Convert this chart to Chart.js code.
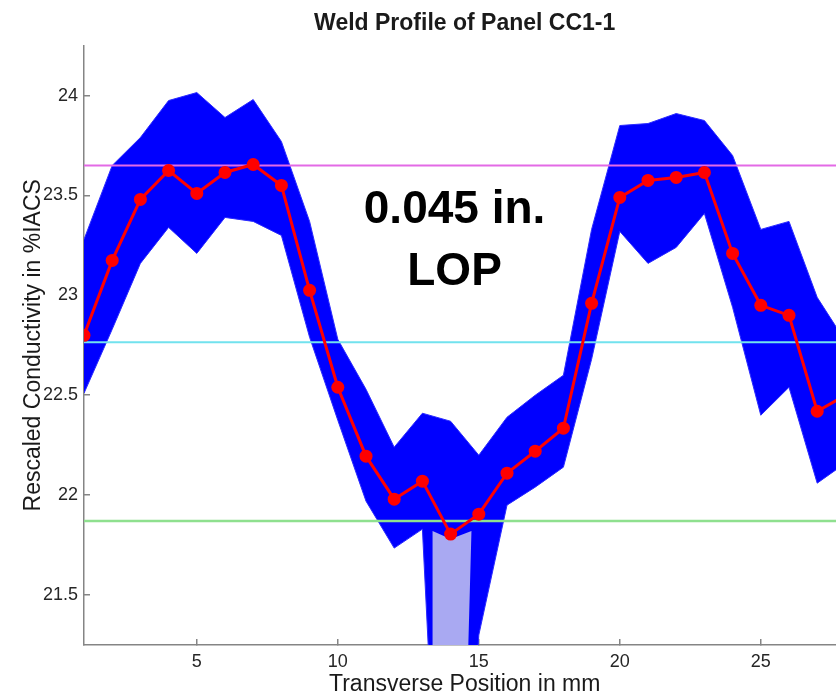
<!DOCTYPE html>
<html>
<head>
<meta charset="utf-8">
<title>Weld Profile of Panel CC1-1</title>
<script src="https://cdn.jsdelivr.net/npm/chart.js@4.4.1/dist/chart.umd.min.js"></script>
<style>
    html, body { margin: 0; padding: 0; background: #fff; overflow: hidden; }
    #wrap { width: 860px; height: 698px; }
</style>
</head>
<body>
<div id="wrap"><canvas id="weldChart" width="860" height="698"></canvas></div>
<script>
// Weld profile - rescaled conductivity across the weld (panel CC1-1)

const positions = [1, 2, 3, 4, 5, 6, 7, 8, 9, 10, 11, 12, 13, 14, 15, 16, 17, 18, 19, 20, 21, 22, 23, 24, 25, 26, 27, 28];

// red mean profile
const meanProfile = [22.80, 23.175, 23.48, 23.625, 23.51, 23.615, 23.655, 23.55, 23.025, 22.54, 22.195, 21.98, 22.07, 21.805,
    21.905, 22.11, 22.22, 22.335, 22.96, 23.49, 23.575, 23.59, 23.615, 23.21, 22.95, 22.90, 22.42, 22.50];

// envelope of the blue bundle of individual scans
const scanUpper = [23.28, 23.65, 23.79, 23.975, 24.015, 23.89, 23.98, 23.77, 23.37, 22.78, 22.53, 22.24, 22.41, 22.37,
    22.20, 22.39, 22.50, 22.60, 23.33, 23.85, 23.86, 23.91, 23.875, 23.70, 23.33, 23.37, 22.99, 22.77];
const scanLower = [22.51, 22.83, 23.16, 23.34, 23.21, 23.39, 23.37, 23.30, 22.79, 22.375, 21.97, 21.735, 21.83, 19.00,
    21.30, 21.95, 22.04, 22.14, 22.68, 23.32, 23.16, 23.24, 23.41, 22.94, 22.40, 22.54, 22.06, 22.16];

// sparse (lighter) part of the bundle inside the dip near 14 mm
const dipX = [13.36, 13.36, 14.0, 14.74, 14.58];
const dipY = [21.00, 21.82, 21.78, 21.82, 21.00];

// horizontal reference levels
const levelValues = [23.65, 22.765, 21.87];
const levelColors = ['#e36ae6', '#72e2ee', '#8fe08f'];

const xTicks = [5, 10, 15, 20, 25];
const yTicks = [21.5, 22, 22.5, 23, 23.5, 24];

const noteLines = ['0.045 in.', 'LOP'];
const noteX = 14.14;
const noteY = [23.36, 23.05];

const FONT = '"Liberation Sans", Arial, Helvetica, sans-serif';
const AXIS_GRAY = '#858585';

const toPoints = (xs, ys) => xs.map((x, i) => ({ x: x, y: ys[i] }));

const noteLabel = {
    id: 'noteLabel',
    afterDatasetsDraw(chart) {
        const { ctx, scales: { x, y } } = chart;
        ctx.save();
        ctx.font = 'bold 46px ' + FONT;
        ctx.fillStyle = '#000';
        ctx.textAlign = 'center';
        ctx.textBaseline = 'alphabetic';
        noteLines.forEach((line, i) => {
            ctx.fillText(line, x.getPixelForValue(noteX), y.getPixelForValue(noteY[i]));
        });
        ctx.restore();
    }
};

const levelSets = levelValues.map((v, i) => ({
    label: 'level ' + (i + 1),
    data: [{ x: positions[0], y: v }, { x: positions[positions.length - 1], y: v }],
    borderColor: levelColors[i],
    borderWidth: i === 2 ? 2.5 : 2,
    pointRadius: 0,
    fill: false,
    order: 1
}));

new Chart(document.getElementById('weldChart'), {
    type: 'line',
    data: {
        datasets: [
            {
                label: 'mean',
                data: toPoints(positions, meanProfile),
                borderColor: '#ff0000',
                backgroundColor: '#ff0000',
                borderWidth: 3,
                pointRadius: 6.5,
                pointBorderWidth: 0,
                pointBackgroundColor: '#ff0000',
                fill: false,
                order: 0
            },
            ...levelSets,
            {
                label: 'dip',
                data: toPoints(dipX, dipY),
                showLine: true,
                borderWidth: 0,
                borderColor: 'rgba(0,0,0,0)',
                backgroundColor: '#a9a9f2',
                pointRadius: 0,
                fill: 'shape',
                order: 2
            },
            {
                label: 'lower',
                data: toPoints(positions, scanLower),
                borderColor: '#2a2aff',
                borderWidth: 1,
                pointRadius: 0,
                fill: false,
                order: 3
            },
            {
                label: 'upper',
                data: toPoints(positions, scanUpper),
                borderColor: '#2a2aff',
                borderWidth: 1,
                backgroundColor: '#0000ff',
                pointRadius: 0,
                fill: '-1',
                order: 3
            }
        ]
    },
    options: {
        responsive: false,
        animation: false,
        events: [],
        layout: { padding: { left: 0, right: 14.6, top: 0, bottom: 0 } },
        plugins: {
            legend: { display: false },
            tooltip: { enabled: false },
            title: {
                display: true,
                text: 'Weld Profile of Panel CC1-1',
                fullSize: false,
                color: '#1a1a1a',
                font: { family: FONT, size: 23, weight: 'bold' },
                padding: { top: 10, bottom: 8 }
            }
        },
        scales: {
            x: {
                type: 'linear',
                min: 1,
                max: 28,
                afterBuildTicks: s => { s.ticks = xTicks.map(v => ({ value: v })); },
                afterFit: s => { s.height = 53; },
                ticks: {
                    color: '#262626',
                    font: { family: FONT, size: 18 },
                    padding: 12,
                    maxRotation: 0,
                    callback: v => String(v)
                },
                grid: { drawOnChartArea: false, drawTicks: true, tickLength: -6, color: AXIS_GRAY, lineWidth: 1.5 },
                border: { display: true, color: AXIS_GRAY, width: 1.5 },
                title: {
                    display: true,
                    text: 'Transverse Position in mm',
                    color: '#1a1a1a',
                    font: { family: FONT, size: 23 },
                    padding: { top: 0, bottom: 0 }
                }
            },
            y: {
                min: 21.25,
                max: 24.25,
                afterBuildTicks: s => { s.ticks = yTicks.map(v => ({ value: v })); },
                afterFit: s => { s.width = 84; },
                ticks: {
                    color: '#262626',
                    font: { family: FONT, size: 18 },
                    padding: 12,
                    callback: v => String(v)
                },
                grid: { drawOnChartArea: false, drawTicks: true, tickLength: -6, color: AXIS_GRAY, lineWidth: 1.5 },
                border: { display: true, color: AXIS_GRAY, width: 1.5 },
                title: {
                    display: true,
                    text: 'Rescaled Conductivity in %IACS',
                    color: '#1a1a1a',
                    font: { family: FONT, size: 23 },
                    padding: { top: 20, bottom: 0 }
                }
            }
        }
    },
    plugins: [noteLabel]
});
</script>
</body>
</html>
